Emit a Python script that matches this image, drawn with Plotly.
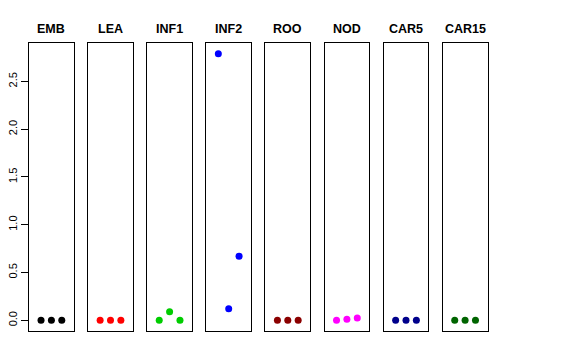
import plotly.graph_objects as go

samples = ["EMB", "LEA", "INF1", "INF2", "ROO", "NOD", "CAR5", "CAR15"]
colors = ["#000000", "#FF0000", "#00CD00", "#0000FF", "#8B0000", "#FF00FF", "#00008B", "#006400"]
positions = [1, 2, 3]
values = [
    [0.0, 0.0, 0.0],
    [0.0, 0.0, 0.0],
    [0.0, 0.09, 0.0],
    [2.79, 0.12, 0.67],
    [0.0, 0.0, 0.0],
    [0.0, 0.01, 0.025],
    [0.0, 0.0, 0.0],
    [0.0, 0.0, 0.0],
]
ytick_vals = [0.0, 0.5, 1.0, 1.5, 2.0, 2.5]
ytick_text = ["0.0", "0.5", "1.0", "1.5", "2.0", "2.5"]

W, H = 576, 360
left0, step, width = 29.0, 59.1, 44.8
top_px, bottom_px = 43.0, 331.0
ymin, ymax = -0.112, 2.902

fig = go.Figure()
layout = dict(
    width=W, height=H, margin=dict(l=0, r=0, t=0, b=0),
    paper_bgcolor="white", plot_bgcolor="white", showlegend=False,
    font=dict(family="Liberation Sans, Arial, sans-serif", color="black"),
    annotations=[],
)
for i, (name, col, vals) in enumerate(zip(samples, colors, values)):
    idx = "" if i == 0 else str(i + 1)
    x0 = (left0 + step * i) / W
    x1 = (left0 + step * i + width) / W
    fig.add_trace(go.Scatter(
        x=positions, y=vals, mode="markers",
        marker=dict(color=col, size=7, line=dict(width=0)),
        xaxis="x" + idx, yaxis="y" + idx, hoverinfo="skip",
    ))
    layout["xaxis" + idx] = dict(
        domain=[x0, x1], range=[-0.16, 4.16], showline=True, mirror=True,
        linecolor="black", linewidth=1, showgrid=False, zeroline=False,
        showticklabels=False, ticks="", anchor="y" + idx,
    )
    yax = dict(
        domain=[1 - bottom_px / H, 1 - top_px / H], range=[ymin, ymax],
        showline=True, mirror=True, linecolor="black", linewidth=1,
        showgrid=False, zeroline=False, anchor="x" + idx,
    )
    if i == 0:
        yax.update(tickmode="array", tickvals=ytick_vals, ticktext=ytick_text,
                   ticks="outside", ticklen=7, tickwidth=1, tickcolor="black",
                   tickangle=-90, tickfont=dict(size=11, color="black"))
    else:
        yax.update(showticklabels=False, ticks="")
    layout["yaxis" + idx] = yax
    layout["annotations"].append(dict(
        text="<b>" + name + "</b>", x=(x0 + x1) / 2, y=1 - 29 / H,
        xref="paper", yref="paper", showarrow=False,
        xanchor="center", yanchor="middle", font=dict(size=12.5, color="black"),
    ))

fig.update_layout(**layout)
fig.write_html(
    "out.html",
    config={"displayModeBar": False},
    post_script="document.body.style.margin='0px';document.body.style.overflow='hidden';",
)
